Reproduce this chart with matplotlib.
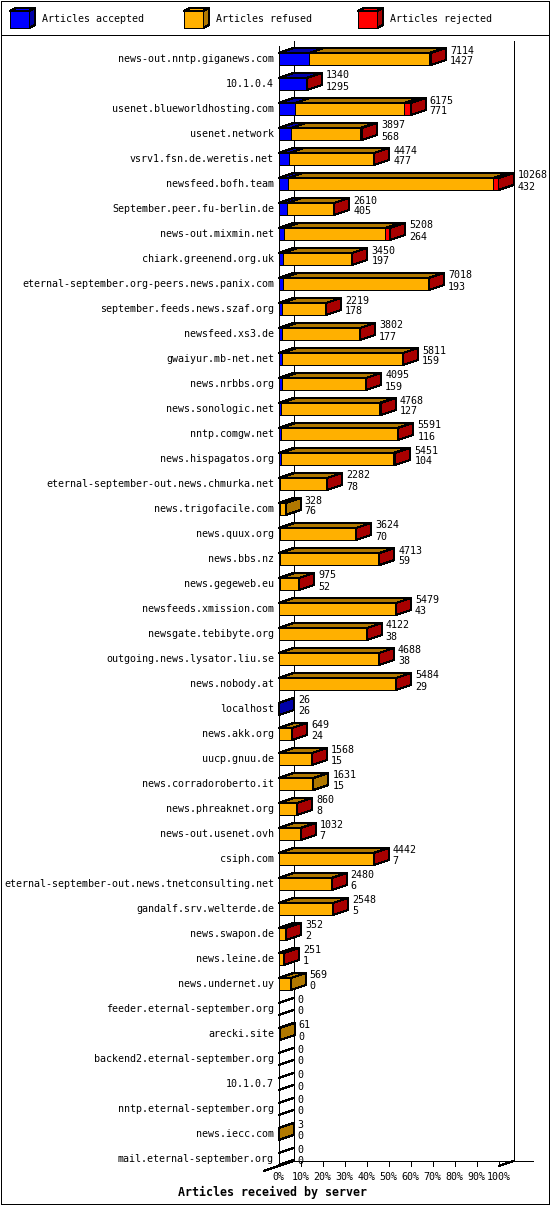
#!/usr/bin/env python3
"""Articles received by server, drawn as 3D-style stacked horizontal bars."""

import matplotlib

matplotlib.use("Agg")
import matplotlib.pyplot as plt
from matplotlib.patches import Polygon, Rectangle

SERVERS = [
    "news-out.nntp.giganews.com", "10.1.0.4", "usenet.blueworldhosting.com",
    "usenet.network", "vsrv1.fsn.de.weretis.net", "newsfeed.bofh.team",
    "September.peer.fu-berlin.de", "news-out.mixmin.net", "chiark.greenend.org.uk",
    "eternal-september.org-peers.news.panix.com", "september.feeds.news.szaf.org",
    "newsfeed.xs3.de", "gwaiyur.mb-net.net", "news.nrbbs.org", "news.sonologic.net",
    "nntp.comgw.net", "news.hispagatos.org", "eternal-september-out.news.chmurka.net",
    "news.trigofacile.com", "news.quux.org", "news.bbs.nz", "news.gegeweb.eu",
    "newsfeeds.xmission.com", "newsgate.tebibyte.org", "outgoing.news.lysator.liu.se",
    "news.nobody.at", "localhost", "news.akk.org", "uucp.gnuu.de",
    "news.corradoroberto.it", "news.phreaknet.org", "news-out.usenet.ovh", "csiph.com",
    "eternal-september-out.news.tnetconsulting.net", "gandalf.srv.welterde.de",
    "news.swapon.de", "news.leine.de", "news.undernet.uy", "feeder.eternal-september.org",
    "arecki.site", "backend2.eternal-september.org", "10.1.0.7",
    "nntp.eternal-september.org", "news.iecc.com", "mail.eternal-september.org",
]
TOTAL = [
    7114, 1340, 6175, 3897, 4474, 10268, 2610, 5208, 3450, 7018, 2219, 3802, 5811,
    4095, 4768, 5591, 5451, 2282, 328, 3624, 4713, 975, 5479, 4122, 4688, 5484, 26,
    649, 1568, 1631, 860, 1032, 4442, 2480, 2548, 352, 251, 569, 0, 61, 0, 0, 0, 3, 0,
]
ACCEPTED = [
    1427, 1295, 771, 568, 477, 432, 405, 264, 197, 193, 178, 177, 159, 159, 127, 116,
    104, 78, 76, 70, 59, 52, 43, 38, 38, 29, 26, 24, 15, 15, 8, 7, 7, 6, 5, 2, 1, 0,
    0, 0, 0, 0, 0, 0, 0,
]
# rejected counts are not printed; read off the width of the red segments
REJECTED = [
    90, 45, 310, 90, 20, 270, 20, 230, 10, 15, 10, 10, 10, 10, 80, 40, 120, 5, 0, 5,
    5, 5, 5, 5, 5, 5, 0, 5, 5, 0, 5, 5, 5, 5, 5, 5, 5, 0, 0, 0, 0, 0, 0, 0, 0,
]
SERIES = ["Articles accepted", "Articles refused", "Articles rejected"]
TICKS = [0, 10, 20, 30, 40, 50, 60, 70, 80, 90, 100]
TITLE = "Articles received by server"

W, H = 550, 1205
FACE = ["#0000ff", "#ffb000", "#ff0000"]
SHADE = ["#0000a8", "#b07800", "#a80000"]
FONT = "DejaVu Sans Mono"
LW = 0.72   # one pixel at 100 dpi

# pixel layout of the front plane
X0_PX, X1_PX = 278.5, 498.5
ROW0_PX, ROW_PX = 59, 25
TOP_PX, BOT_PX = 46, 1166
DX_PX, DY_PX = 15, 5
HALF_PX = 6


def poly(ax, pts, fc, **kw):
    ax.add_patch(Polygon(pts, closed=True, facecolor=fc, edgecolor="black",
                         linewidth=LW, antialiased=False, clip_on=False, **kw))


def line(ax, xs, ys, z=0.5):
    ax.plot(xs, ys, color="black", linewidth=LW, antialiased=False,
            clip_on=False, solid_capstyle="butt", zorder=z)


def draw_legend(fr):
    fr.add_patch(Rectangle((0.5, 0.5), W - 1.5, H - 1.5, fill=False,
                           edgecolor="black", linewidth=LW, antialiased=False))
    line(fr, [0.5, W - 0.5], [34.5, 34.5])
    for k, (bx, tx) in enumerate([(10, 42), (184, 216), (358, 390)]):
        poly(fr, [(bx, 11), (bx + 6, 8), (bx + 25, 8), (bx + 19, 11)], FACE[k])
        poly(fr, [(bx + 19, 11), (bx + 25, 8), (bx + 25, 25), (bx + 19, 28)], SHADE[k])
        poly(fr, [(bx, 11), (bx + 19, 11), (bx + 19, 28), (bx, 28)], FACE[k])
        fr.text(tx, 19.5, SERIES[k], family=FONT, fontsize=7.2, ha="left", va="center")


def main():
    fig = plt.figure(figsize=(W / 100, H / 100), dpi=100)
    fr = fig.add_axes([0, 0, 1, 1])
    fr.set_xlim(0, W)
    fr.set_ylim(H, 0)
    fr.axis("off")
    draw_legend(fr)

    ax = fig.add_axes([X0_PX / W, 1 - BOT_PX / H, (X1_PX - X0_PX) / W,
                       (BOT_PX - TOP_PX) / H])
    y_top = (TOP_PX - ROW0_PX) / ROW_PX
    y_bot = (BOT_PX - ROW0_PX) / ROW_PX
    ax.set_xlim(0, 100)
    ax.set_ylim(y_bot, y_top)
    ax.axis("off")

    px = 100 / (X1_PX - X0_PX)   # one pixel in percent
    py = 1 / ROW_PX              # one pixel in rows
    dx, dy = DX_PX * px, -DY_PX * py
    h = HALF_PX * py

    # 3D frame: front left edge, back walls, floor and ticks (behind the bars)
    line(ax, [0, 0], [y_top, y_bot])
    line(ax, [dx, dx], [y_top + dy, y_bot + dy])
    line(ax, [100 + dx, 100 + dx], [y_top + dy, y_bot + dy])
    line(ax, [dx, 100 + dx + 19 * px], [y_bot + dy, y_bot + dy])
    line(ax, [-dx, dx], [y_bot - dy, y_bot + dy])
    line(ax, [100, 100 + dx], [y_bot, y_bot + dy])
    for t in TICKS:
        if t > 0:
            line(ax, [t, t], [y_bot + dy, y_bot])
        ax.text(t, y_bot + 11 * py, f"{t}%", family=FONT, fontsize=7.2,
                ha="center", va="center")

    vmax = max(TOTAL)
    for i, name in enumerate(SERVERS):
        refused = TOTAL[i] - ACCEPTED[i] - REJECTED[i]
        parts = [ACCEPTED[i], refused, REJECTED[i]]
        top, bot = i - h, i + h
        x0 = 0.0
        last = None
        for k, v in enumerate(parts):
            if v <= 0:
                continue
            x1 = x0 + v / vmax * 100
            poly(ax, [(x0, top), (x1, top), (x1, bot), (x0, bot)], FACE[k])
            poly(ax, [(x0, top), (x1, top), (x1 + dx, top + dy), (x0 + dx, top + dy)],
                 SHADE[k])
            x0 = x1
            last = k
        if last is None:
            line(ax, [0, dx], [top, top + dy], z=2)
            line(ax, [0, dx], [bot, bot + dy], z=2)
        else:
            poly(ax, [(x0, top), (x0 + dx, top + dy), (x0 + dx, bot + dy), (x0, bot)],
                 SHADE[last])

        ax.text(-4.5 * px, i, name, family=FONT, fontsize=7.2, ha="right", va="center")
        tx = x0 + dx + 4 * px
        ax.text(tx, i - 8.5 * py, str(TOTAL[i]), family=FONT, fontsize=7.2,
                ha="left", va="center")
        ax.text(tx, i + 2.5 * py, str(ACCEPTED[i]), family=FONT, fontsize=7.2,
                ha="left", va="center")

    fig.text(273 / W, 1 - 1192 / H, TITLE, family=FONT, fontsize=8.4,
             fontweight="bold", ha="center", va="center")

    fig.savefig("out.png", dpi=100)
    plt.close(fig)


if __name__ == "__main__":
    main()
